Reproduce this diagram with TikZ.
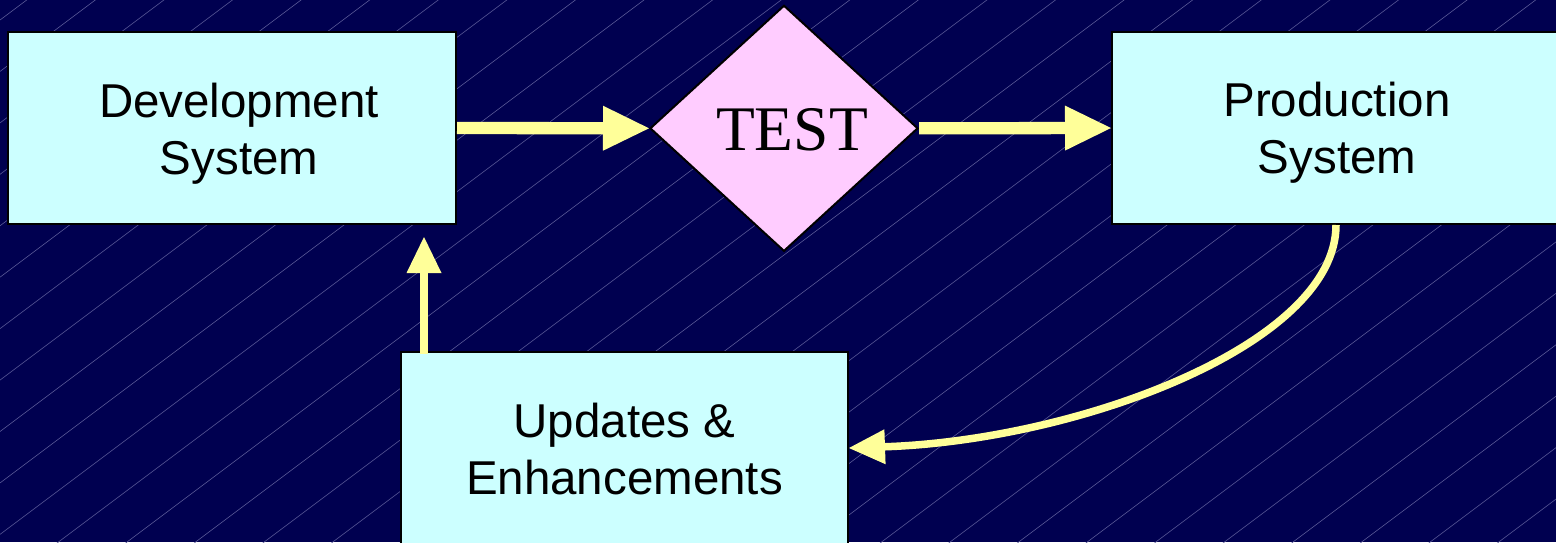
\documentclass[tikz,border=0pt]{standalone}
\usepackage{fontspec}
\setmainfont{Liberation Sans}
\newfontfamily\testfont{Liberation Serif}
\usetikzlibrary{shapes.geometric,arrows.meta}
\definecolor{bgnavy}{RGB}{0,0,80}
\definecolor{hatchline}{RGB}{88,88,150}
\definecolor{boxfill}{RGB}{204,255,255}
\definecolor{testfill}{RGB}{255,204,255}
\definecolor{flowyellow}{RGB}{255,255,153}
\begin{document}
\begin{tikzpicture}[x=1pt,y=-1pt,
  stagebox/.style={rectangle, draw=black, line width=2pt, fill=boxfill,
    minimum width=448pt, minimum height=192pt, inner sep=0pt},
  stagetext/.style={inner sep=0pt, align=center,
    font=\fontsize{47.5}{57}\selectfont},
  decision/.style={diamond, draw=black, line width=2pt, fill=testfill,
    minimum width=268pt, minimum height=246pt, inner sep=0pt},
  decisiontext/.style={inner sep=0pt,
    font=\testfont\fontsize{63.5}{70}\selectfont},
  bigflow/.style={draw=flowyellow, line width=12.3pt,
    -{Triangle[length=46pt 0 0,width=45pt 0 0,line width=0pt]}},
  smallflow/.style={draw=flowyellow, line width=8pt,
    -{Triangle[length=36pt 0 0,width=35pt 0 0,line width=0pt]}},
  curveflow/.style={draw=flowyellow, line width=7.5pt,
    -{Triangle[length=36pt 0 0,width=35pt 0 0,line width=0pt]}},
]
% background with thin diagonal hatching
\fill[bgnavy] (0,0) rectangle (1556,542);
\useasboundingbox (0,0) rectangle (1556,542);
\begin{scope}
  \clip (0,0) rectangle (1556,542);
  \foreach \k in {0,...,34}{
    \draw[hatchline, line width=0.6pt] (0,20+\k*51.44) -- (1600,20+\k*51.44-1200);
  }
\end{scope}

% stages
\node[stagebox] (dev) at (232,128) {};
\node[stagetext] (devtext) at ([shift={(7,6)}]dev.center) {Development\\System};
\node[decision] (test) at (784,128.3) {};
\node[decisiontext] (testtext) at ([shift={(8,1)}]test.center) {TEST};
\node[stagebox] (prod) at (1336,128) {};
\node[stagetext] (prodtext) at ([shift={(1,5)}]prod.center) {Production\\System};
\node[stagebox, minimum width=447pt] (upd) at (624.5,448) {};
\node[stagetext] (updtext) at ([shift={(0,1)}]upd.center) {Updates \&\\Enhancements};

% flow
\draw[bigflow] (dev.east) -- (test.west);
\draw[bigflow] (test.east) -- (prod.west);

\coordinate (upfoot) at ([xshift=24pt,yshift=-3pt]upd.north west);
\coordinate (uphead) at (upfoot |- dev.south);
\draw[smallflow, shorten >=12pt] (upfoot) -- (uphead);

\draw[curveflow] (prod.south) .. controls +(0,119) and +(231,-8) .. (upd.east);
\end{tikzpicture}
\end{document}
